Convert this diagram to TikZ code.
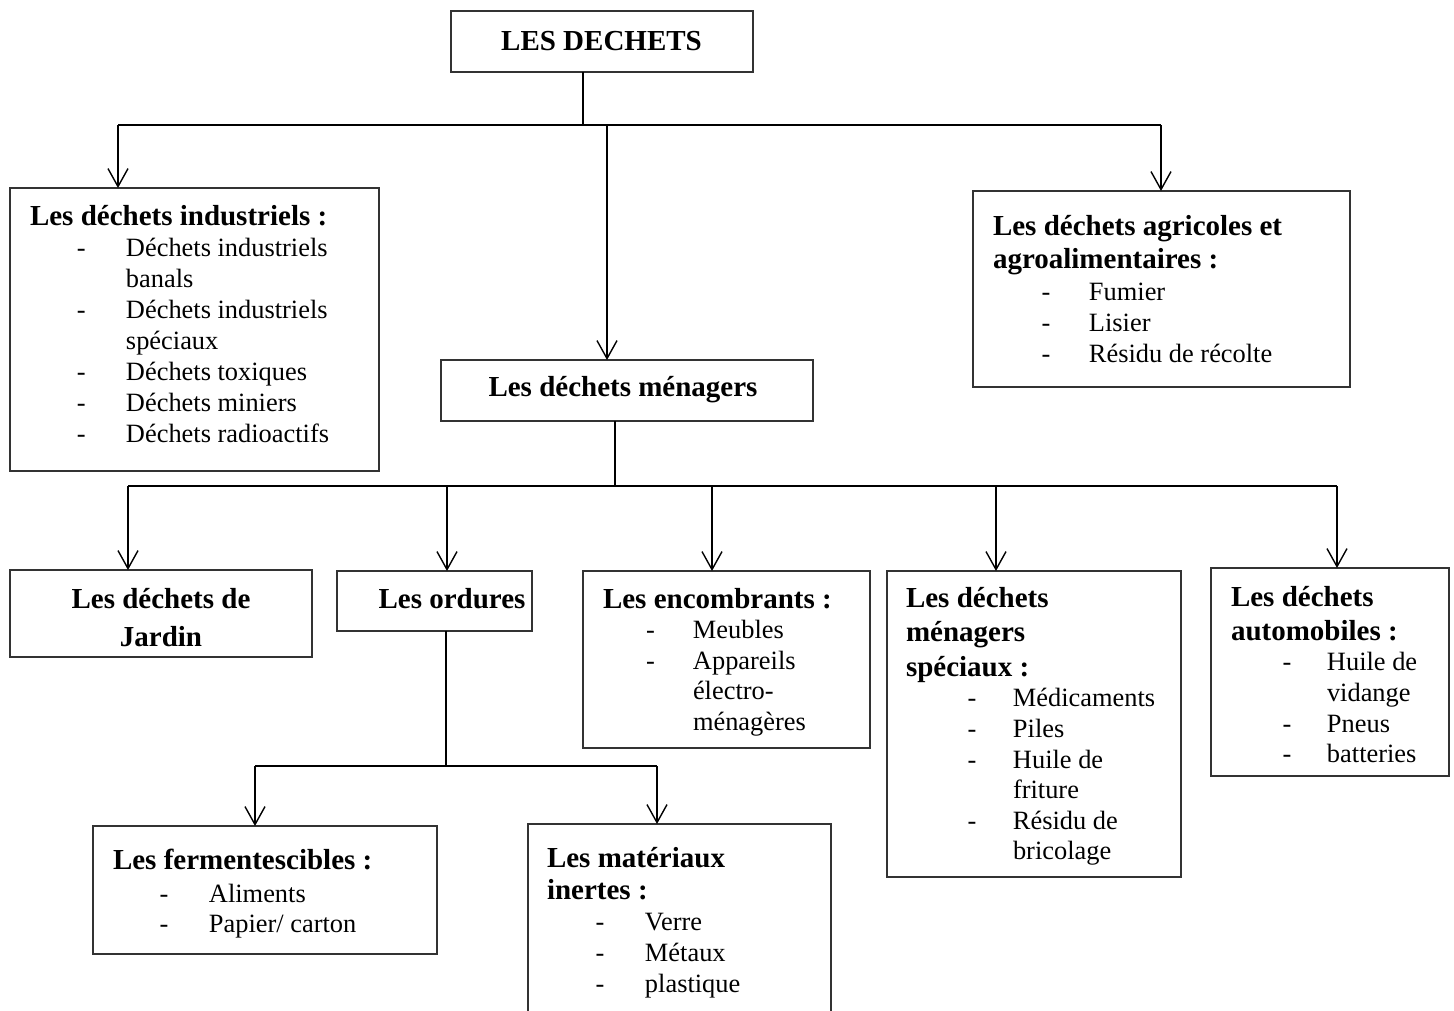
\documentclass[tikz,border=0pt]{standalone}
\usepackage{fontspec}
\setmainfont{Liberation Serif}
\usetikzlibrary{arrows.meta}

% offsets of the dash and of the entry text inside a list
\newlength\dshoff
\newlength\itmoff
\newcommand\ttl{\bfseries\fontsize{29}{34.5}\selectfont}
\newcommand\lay[3]{\baselineskip=#1pt\relax\lineskiplimit=-100pt\relax\dshoff=#2pt\relax\itmoff=#3pt\relax}
\newcommand\tline[1]{\hbox{\ttl #1}}
\newcommand\ent[1]{\hbox{\hbox to\itmoff{\hskip\dshoff\relax-\hss}#1}}
\newcommand\cnt[1]{\hbox{\hskip\itmoff\relax #1}}
\newcommand\gap[1]{\vskip#1pt\relax}

\tikzset{
  box/.style={draw=black!80, line width=1.2pt, inner sep=0pt, outer sep=0pt,
              anchor=north west, fill=none},
  txt/.style={inner sep=0pt, outer sep=0pt, font=\fontsize{26.4}{31}\selectfont},
  conn/.style={line width=1.5pt},
  bus/.style={line width=2pt},
  arr/.style={line width=1.4pt, -{Straight Barb[length=18pt,width=20pt]}},
}

\begin{document}
\begin{tikzpicture}[x=1pt,y=-1pt]
  \fill[white] (0,0) rectangle (1454,1010);
  \clip (0,0) rectangle (1454,1010);

  % ---- frames ----
  \node[box, minimum width=302, minimum height=61]  (top) at (451,11) {};
  \node[box, minimum width=369, minimum height=283] (ind) at (10,188) {};
  \node[box, minimum width=377, minimum height=196] (agr) at (973,191) {};
  \node[box, minimum width=372, minimum height=61]  (men) at (441,360) {};
  \node[box, minimum width=302, minimum height=87]  (jar) at (10,570) {};
  \node[box, minimum width=195, minimum height=60]  (ord) at (337,571) {};
  \node[box, minimum width=287, minimum height=177] (enc) at (583,571) {};
  \node[box, minimum width=294, minimum height=306] (spe) at (887,571) {};
  \node[box, minimum width=238, minimum height=208] (aut) at (1211,568) {};
  \node[box, minimum width=344, minimum height=128] (fer) at (93,826) {};
  \node[box, minimum width=303, minimum height=230] (mat) at (528,824) {};

  % ---- texts ----
  \node[txt, anchor=base] (top-t) at (601.5,50) {\ttl LES DECHETS};
  \node[txt, anchor=base] (men-t) at (623,396) {\ttl Les déchets ménagers};
  \node[txt, anchor=base] (ord-t) at (452,608) {\ttl Les ordures};
  \node[txt, anchor=base] (jar-t) at (161,608) {\vtop{\lay{38}{0}{0}%
      \hbox to 0pt{\hss\ttl Les déchets de\hss}%
      \hbox to 0pt{\hss\ttl Jardin\hss}}};

  \node[txt, anchor=base west] (ind-t) at (30,225) {\vtop{\lay{31}{47}{96}%
      \tline{Les déchets industriels :}%
      \ent{Déchets industriels}%
      \cnt{banals}%
      \ent{Déchets industriels}%
      \cnt{spéciaux}%
      \ent{Déchets toxiques}%
      \ent{Déchets miniers}%
      \ent{Déchets radioactifs}}};

  \node[txt, anchor=base west] (agr-t) at (993,235) {\vtop{\lay{31}{48.6}{96}%
      \tline{Les déchets agricoles et}\gap{2}%
      \tline{agroalimentaires :}\gap{1}%
      \ent{Fumier}%
      \ent{Lisier}%
      \ent{Résidu de récolte}}};

  \node[txt, anchor=base west] (enc-t) at (603,608) {\vtop{\lay{30.5}{43}{90}%
      \tline{Les encombrants :}%
      \ent{Meubles}%
      \ent{Appareils}%
      \cnt{électro-}%
      \cnt{ménagères}}};

  \node[txt, anchor=base west] (spe-t) at (906,607) {\vtop{\lay{30.6}{61.6}{107}%
      \tline{Les déchets}\gap{4}%
      \tline{ménagers}\gap{4}%
      \tline{spéciaux :}%
      \ent{Médicaments}%
      \ent{Piles}%
      \ent{Huile de}%
      \cnt{friture}%
      \ent{Résidu de}%
      \cnt{bricolage}}};

  \node[txt, anchor=base west] (aut-t) at (1231,606) {\vtop{\lay{30.7}{51.6}{96}%
      \tline{Les déchets}\gap{3.3}%
      \tline{automobiles :}%
      \ent{Huile de}%
      \cnt{vidange}%
      \ent{Pneus}%
      \ent{batteries}}};

  \node[txt, anchor=base west] (fer-t) at (113,869) {\vtop{\lay{30.5}{46.6}{96}%
      \tline{Les fermentescibles :}\gap{2.5}%
      \ent{Aliments}%
      \ent{Papier/ carton}}};

  \node[txt, anchor=base west] (mat-t) at (547,867) {\vtop{\lay{31}{48.6}{98}%
      \tline{Les matériaux}\gap{1}%
      \tline{inertes :}%
      \ent{Verre}%
      \ent{Métaux}%
      \ent{plastique}}};

  % ---- first level ----
  \coordinate (b1L) at (118,125);
  \coordinate (b1M) at (607,125);
  \coordinate (b1R) at (1161,125);
  \draw[conn] ([xshift=-19pt]top.south) -- ([xshift=-19pt]top.south |- b1L);
  \draw[bus] (b1L) -- (b1R);
  \draw[arr] (b1L) -- (b1L |- ind.north);
  \draw[arr] (b1M) -- (b1M |- men.north);
  \draw[arr] (b1R) -- (b1R |- agr.north);

  % ---- household waste ----
  \coordinate (b2L) at (128,486);
  \coordinate (b2B) at (447,486);
  \coordinate (b2C) at (712,486);
  \coordinate (b2D) at (996,486);
  \coordinate (b2R) at (1337,486);
  \draw[conn] ([xshift=-12pt]men.south) -- ([xshift=-12pt]men.south |- b2L);
  \draw[bus] (b2L) -- (b2R);
  \draw[arr] (b2L) -- (b2L |- jar.north);
  \draw[arr] (b2B) -- (b2B |- ord.north);
  \draw[arr] (b2C) -- (b2C |- enc.north);
  \draw[arr] (b2D) -- (b2D |- spe.north);
  \draw[arr] (b2R) -- (b2R |- aut.north);

  % ---- refuse ----
  \coordinate (b3L) at (255,766);
  \coordinate (b3R) at (657,766);
  \draw[conn] ([xshift=11.5pt]ord.south) -- ([xshift=11.5pt]ord.south |- b3L);
  \draw[bus] (b3L) -- (b3R);
  \draw[arr] (b3L) -- (b3L |- fer.north);
  \draw[arr] (b3R) -- (b3R |- mat.north);
\end{tikzpicture}
\end{document}
